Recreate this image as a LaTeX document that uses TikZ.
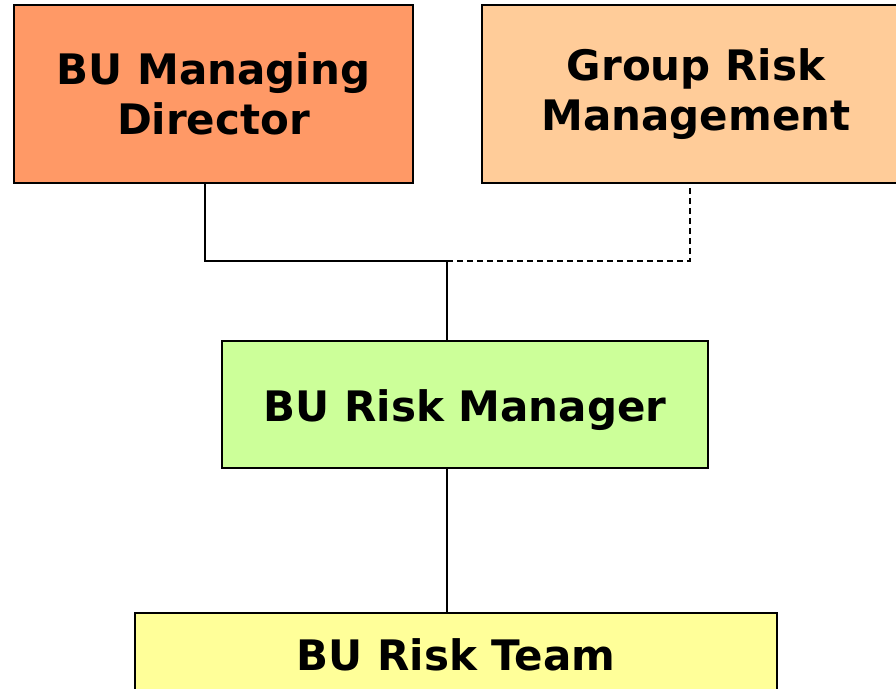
\documentclass[tikz,border=0pt]{standalone}
\usepackage{fontspec}
\setmainfont{DejaVu Sans}
\definecolor{mdcol}{HTML}{FF9966}
\definecolor{grmcol}{HTML}{FFCC99}
\definecolor{rmcol}{HTML}{CCFF99}
\definecolor{rtcol}{HTML}{FFFF99}
\begin{document}
\begin{tikzpicture}[x=1pt,y=-1pt,
  box/.style={draw=black,line width=2.4pt,inner sep=0pt,align=center,
    font=\fontsize{42}{50}\selectfont\bfseries},
  conn/.style={line width=1.3pt}]
\clip (0,0) rectangle (896,688);
\fill[white] (0,0) rectangle (896,688);
\node[box,fill=mdcol,minimum width=399pt,minimum height=178pt] (md) at (213.5,94) {BU Managing\\Director};
\node[box,fill=grmcol,minimum width=428pt,minimum height=178pt] (grm) at (696,94) {Group Risk\\Management};
\node[box,fill=rmcol,minimum width=486pt,minimum height=127pt,text height=42pt,text depth=8pt] (rm) at (465,404.5) {BU Risk Manager};
\node[box,fill=rtcol,minimum width=642pt,minimum height=84pt] (rt) at (456,655) {BU Risk Team};
\coordinate (j) at (447,261);
\draw[conn] ([xshift=-8.5pt]md.south) |- (j);
\draw[conn,dashed,dash pattern=on 6pt off 4pt] (j) -| ([xshift=-6pt]grm.south);
\draw[conn] (j) -- (j |- rm.north);
\draw[conn] (j |- rm.south) -- (j |- rt.north);
\end{tikzpicture}
\end{document}
